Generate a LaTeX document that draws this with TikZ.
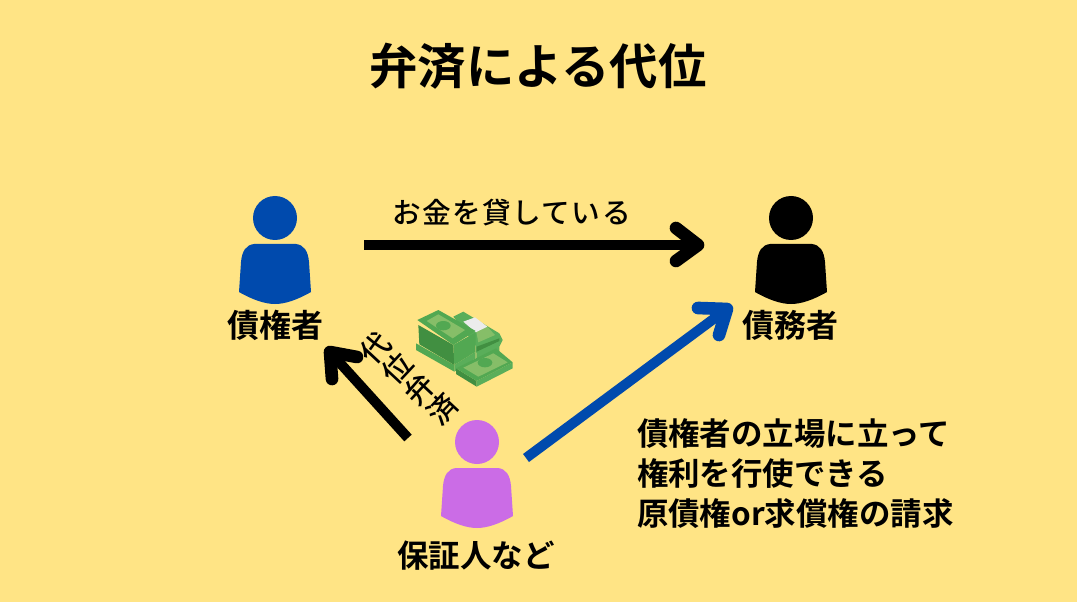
\documentclass[tikz,border=0pt]{standalone}
\usepackage{fontspec}
\setmainfont{Noto Sans CJK JP}[BoldFont={* Bold}]
\newfontfamily\jpm{Noto Sans CJK JP Medium}
\definecolor{bgy}{HTML}{FFE485}
\definecolor{blu}{HTML}{004AAD}
\definecolor{pur}{HTML}{CB6CE6}
\definecolor{mA}{HTML}{52A852}
\definecolor{mB}{HTML}{418F41}
\definecolor{mC}{HTML}{86BE68}
\definecolor{mD}{HTML}{5AAE5A}
\tikzset{x=0.75pt,y=-0.75pt,
 txt/.style={inner sep=0,outer sep=0,font=\fontsize{24pt}{28pt}\selectfont\bfseries,anchor=center},
 shaft/.style={line width=7.5pt,line cap=butt},
 head/.style={line width=9.5pt,line cap=round,line join=round},
 person/.pic={
  \fill[pic actions] (0,0) circle (22);
  \fill[pic actions] (-21,26) .. controls (-29,27) and (-33,33) .. (-34,44) -- (-36,74) .. controls (-22,82) and (-10,86) .. (0,86) .. controls (10,86) and (22,82) .. (36,74) -- (34,44) .. controls (33,33) and (29,27) .. (21,26) -- cycle;
 }}
\begin{document}
\begin{tikzpicture}
\useasboundingbox (0,0) rectangle (1077,602);
\fill[bgy] (0,0) rectangle (1077,602);
\node[txt,font=\fontsize{36.3pt}{40pt}\selectfont\bfseries] (title) at (538,66) {弁済による代位};
\pic[fill=blu] at (275,218) {person};
\pic[fill=black] at (791,218) {person};
\pic[fill=pur] at (477,442) {person};
\node[txt] (creditor) at (275,325) {債権者};
\node[txt] (debtor) at (790,325) {債務者};
\node[txt,font=\fontsize{23.6pt}{28pt}\selectfont\bfseries] (guarantor) at (476,556) {保証人など};
\node[inner sep=0,font=\fontsize{21.5pt}{26pt}\selectfont\jpm] (lend) at (511.5,213) {\addfontfeature{LetterSpace=5}お金を貸している};
\node[inner sep=0,rotate=47,align=center,font=\fontsize{22pt}{22.6pt}\selectfont\jpm] (subrog) at (409,379) {代\\位\\弁\\済};
\node[txt,align=left,anchor=west,font=\fontsize{23.6pt}{30pt}\selectfont\bfseries] (note) at (637,474) {債権者の立場に立って\\権利を行使できる\\原債権or求償権の請求};
\coordinate (a1) at (364,245); \coordinate (a2) at (698,245); \coordinate (a3) at (676,228); \coordinate (a4) at (676,261);
\coordinate (b1) at (408,438); \coordinate (b2) at (330,352); \coordinate (b3) at (357,357); \coordinate (b4) at (332,379);
\coordinate (c1) at (526,458); \coordinate (c2) at (727,309); \coordinate (c3) at (698,308); \coordinate (c4) at (719,335);
\draw[shaft,black] (a1) -- (a2);
\draw[head,black] (a3) -- (a2) -- (a4);
\draw[shaft,black] (b1) -- (b2);
\draw[head,black] (b3) -- (b2) -- (b4);
\draw[shaft,blu] (c1) -- (c2);
\draw[head,blu] (c3) -- (c2) -- (c4);
% money, in zoomed coordinates
\begin{scope}[shift={(410,305)},x=0.25pt,y=-0.25pt]
\fill[mD] (268,85) -- (278,105) -- (268,125) -- (268,140) -- (200,175) -- (197,100) -- cycle;
\fill[mB] (200,125) -- (268,100) -- (268,108) -- (200,140) -- cycle;
\fill[mD] (130,35) -- (160,20) -- (268,85) -- (197,122) -- cycle;
\fill[mC] (195,60) -- (232,65) -- (255,90) -- (205,112) -- cycle;
\fill[white!85!gray] (160,50) -- (195,37) -- (232,65) -- (197,82) -- cycle;
\fill[mA] (18,115) -- (133,180) -- (133,200) -- (18,135) -- cycle;
\fill[mD] (133,180) -- (197,140) -- (197,160) -- (133,200) -- cycle;
\fill[mB] (25,60) -- (130,120) -- (133,180) -- (28,118) -- cycle;
\fill[mA] (130,120) -- (197,82) -- (197,140) -- (133,180) -- cycle;
\fill[mA] (22,45) -- (85,15) -- (197,78) -- (130,120) -- cycle;
\fill[mC] (50,48) -- (85,28) -- (165,75) -- (128,100) -- cycle;
\fill[mA] (100,62) ellipse (22 and 14);
\fill[mB] (138,190) -- (200,228) -- (200,245) -- (138,207) -- cycle;
\fill[mD] (200,228) -- (308,172) -- (308,190) -- (200,245) -- cycle;
\fill[mA] (138,190) -- (258,130) -- (308,172) -- (200,228) -- cycle;
\fill[mC] (160,188) -- (250,145) -- (293,172) -- (205,215) -- cycle;
\fill[mA] (225,173) ellipse (22 and 14);
\end{scope}
\end{tikzpicture}
\end{document}
